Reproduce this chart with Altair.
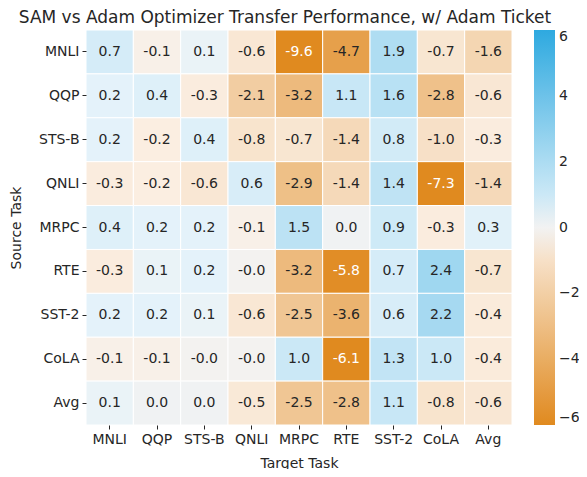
import altair as alt
import pandas as pd

tasks = ["MNLI", "QQP", "STS-B", "QNLI", "MRPC", "RTE", "SST-2", "CoLA", "Avg"]
source_tasks = tasks
target_tasks = tasks

row_MNLI = [0.7, -0.1, 0.1, -0.6, -9.6, -4.7, 1.9, -0.7, -1.6]
row_QQP = [0.2, 0.4, -0.3, -2.1, -3.2, 1.1, 1.6, -2.8, -0.6]
row_STSB = [0.2, -0.2, 0.4, -0.8, -0.7, -1.4, 0.8, -1.0, -0.3]
row_QNLI = [-0.3, -0.2, -0.6, 0.6, -2.9, -1.4, 1.4, -7.3, -1.4]
row_MRPC = [0.4, 0.2, 0.2, -0.1, 1.5, 0.02, 0.9, -0.3, 0.3]
row_RTE = [-0.3, 0.1, 0.2, -0.02, -3.2, -5.8, 0.7, 2.4, -0.7]
row_SST2 = [0.2, 0.2, 0.1, -0.6, -2.5, -3.6, 0.6, 2.2, -0.4]
row_CoLA = [-0.1, -0.1, -0.02, -0.02, 1.0, -6.1, 1.3, 1.0, -0.4]
row_Avg = [0.1, 0.02, 0.02, -0.5, -2.5, -2.8, 1.1, -0.8, -0.6]

rows = [row_MNLI, row_QQP, row_STSB, row_QNLI, row_MRPC, row_RTE, row_SST2, row_CoLA, row_Avg]

records = []
for s, vals in zip(source_tasks, rows):
    for t, v in zip(target_tasks, vals):
        records.append({"source": s, "target": t, "value": v, "label": f"{v:.1f}"})
df = pd.DataFrame(records)

color_domain = [-6, -0.15, 0, 0.15, 6]
color_range = ["#e08a1f", "#fbefe3", "#f2f2f2", "#e6f3fa", "#2ea9e0"]
legend_values = [-6, -4, -2, 0, 2, 4, 6]

base = alt.Chart(df).encode(
    x=alt.X("target:N", sort=target_tasks, title="Target Task",
            axis=alt.Axis(labelAngle=0, domain=False, ticks=True, tickSize=4,
                          tickColor="#262626", labelPadding=3, titlePadding=10)),
    y=alt.Y("source:N", sort=source_tasks, title="Source Task",
            axis=alt.Axis(domain=False, ticks=True, tickSize=4,
                          tickColor="#262626", labelPadding=3, titlePadding=15)),
)

rects = base.mark_rect(stroke="white", strokeWidth=1).encode(
    color=alt.Color("value:Q",
                    scale=alt.Scale(domain=color_domain, range=color_range,
                                    clamp=True, interpolate="rgb"),
                    legend=alt.Legend(title=None, gradientLength=395,
                                      gradientThickness=21, offset=22,
                                      values=legend_values,
                                      labelFontSize=14, labelColor="#262626",
                                      labelOffset=4, direction="vertical",
                                      orient="right"))
)

texts = base.mark_text(fontSize=14, font="DejaVu Sans").encode(
    text="label:N",
    color=alt.condition(alt.datum.value < -5, alt.value("white"), alt.value("#262626")),
)

chart = (rects + texts).properties(
    width=426, height=395,
    title=alt.TitleParams("SAM vs Adam Optimizer Transfer Performance, w/ Adam Ticket",
                          fontSize=17, font="DejaVu Sans", fontWeight="normal",
                          color="#262626", offset=3, dx=-14),
    autosize=alt.AutoSizeParams(type="none"),
    padding={"left": 78, "top": 22, "right": 67, "bottom": 44},
).configure_view(stroke=None).configure_axis(
    labelFont="DejaVu Sans", titleFont="DejaVu Sans", labelFontSize=14,
    titleFontSize=14, labelColor="#262626", titleColor="#262626",
    titleFontWeight="normal", grid=False
).configure_legend(labelFont="DejaVu Sans")

chart.save("out.html", embed_options={"renderer": "svg", "actions": False})
